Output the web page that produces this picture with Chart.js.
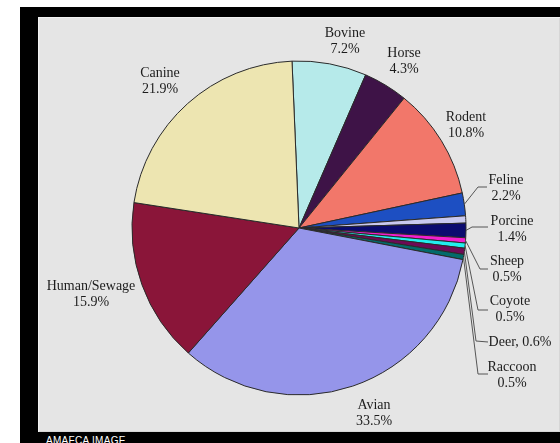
<!DOCTYPE html>
<html>
<head>
<meta charset="utf-8">
<script src="https://cdn.jsdelivr.net/npm/chart.js@4"></script>
<style>
  html, body { margin: 0; padding: 0; background: #fff; }
  #wrap { position: relative; width: 560px; height: 443px; overflow: hidden; }
  #frame { position: absolute; left: 20px; top: 7px; right: 0; bottom: 0; background: #000; }
  #panel { position: absolute; left: 38px; top: 17px; right: 0; height: 415px; background: #e5e5e5;
           box-shadow: inset 1px 1px 0 #f2f2f2, inset -1px -1px 0 #d6d6d6; }
  #credit { position: absolute; left: 46px; top: 435px; font: 10px "Liberation Sans", Arial, sans-serif;
            color: #fff; letter-spacing: 0.3px; }
  canvas { position: absolute; left: 0; top: 0; }
</style>
</head>
<body>
<div id="wrap">
  <div id="frame"></div>
  <div id="panel"></div>
  <div id="credit">AMAFCA IMAGE</div>
  <canvas id="sourceChart" width="560" height="443"></canvas>
</div>
<script>
// source share by host, clockwise from the top
const categories = ['Bovine', 'Horse', 'Rodent', 'Feline', '', 'Porcine', 'Sheep', 'Coyote', 'Deer', 'Raccoon', 'Avian', 'Human/Sewage', 'Canine'];
const shares = [7.2, 4.3, 10.8, 2.2, 0.7, 1.4, 0.5, 0.5, 0.6, 0.5, 33.5, 15.9, 21.9];
const sliceColors = ['#b6eaea', '#3e1347', '#f2776a', '#1d4fc2', '#c9c9ef', '#0b0b6f', '#f21fcf', '#22eeee', '#6e0a55', '#036b6a', '#9595ea', '#8a1539', '#ede5b1'];

// label placement: centre x, first line y, leader elbow and end
const labelPos = {
  'Bovine':       { x: 345, y: 33 },
  'Horse':        { x: 404, y: 53 },
  'Rodent':       { x: 466, y: 117 },
  'Feline':       { x: 506, y: 180, elbow: [478, 187], end: [487, 187] },
  'Porcine':      { x: 512, y: 221, elbow: [472, 227], end: [488, 227] },
  'Sheep':        { x: 507, y: 261, elbow: [480, 269], end: [488, 269] },
  'Coyote':       { x: 510, y: 301, elbow: [478, 310], end: [488, 310] },
  'Deer':         { x: 520, y: 342, elbow: [476, 341], end: [488, 342], inline: true },
  'Raccoon':      { x: 512, y: 367, elbow: [478, 374], end: [488, 374] },
  'Avian':        { x: 374, y: 405 },
  'Human/Sewage': { x: 91,  y: 286 },
  'Canine':       { x: 160, y: 73 }
};

const sliceLabels = {
  id: 'sliceLabels',
  afterDatasetsDraw(chart) {
    const ctx = chart.ctx;
    const arcs = chart.getDatasetMeta(0).data;
    ctx.save();
    ctx.font = '14px "Liberation Serif", "Times New Roman", serif';
    ctx.fillStyle = '#1c1c1c';
    ctx.textAlign = 'center';
    ctx.textBaseline = 'middle';
    categories.forEach((name, i) => {
      const pos = labelPos[name];
      if (!pos) return;
      const pct = shares[i].toFixed(1) + '%';
      if (pos.end) {
        const a = arcs[i];
        const mid = (a.startAngle + a.endAngle) / 2;
        const r = a.outerRadius;
        ctx.beginPath();
        ctx.strokeStyle = '#555';
        ctx.lineWidth = 1;
        ctx.moveTo(a.x + Math.cos(mid) * r, a.y + Math.sin(mid) * r);
        ctx.lineTo(pos.elbow[0], pos.elbow[1]);
        ctx.lineTo(pos.end[0], pos.end[1]);
        ctx.stroke();
      }
      if (pos.inline) {
        ctx.fillText(name + ', ' + pct, pos.x, pos.y);
      } else {
        ctx.fillText(name, pos.x, pos.y);
        ctx.fillText(pct, pos.x, pos.y + 16);
      }
    });
    ctx.restore();
  }
};

new Chart(document.getElementById('sourceChart'), {
  type: 'pie',
  data: {
    labels: categories,
    datasets: [{
      data: shares,
      backgroundColor: sliceColors,
      borderColor: '#2a2a2a',
      borderWidth: 1,
      radius: 167
    }]
  },
  options: {
    responsive: false,
    animation: false,
    rotation: -2.4,
    layout: { padding: { left: 38, right: 0, top: 13, bottom: 0 } },
    plugins: {
      legend: { display: false },
      tooltip: { enabled: false }
    }
  },
  plugins: [sliceLabels]
});
</script>
</body>
</html>
